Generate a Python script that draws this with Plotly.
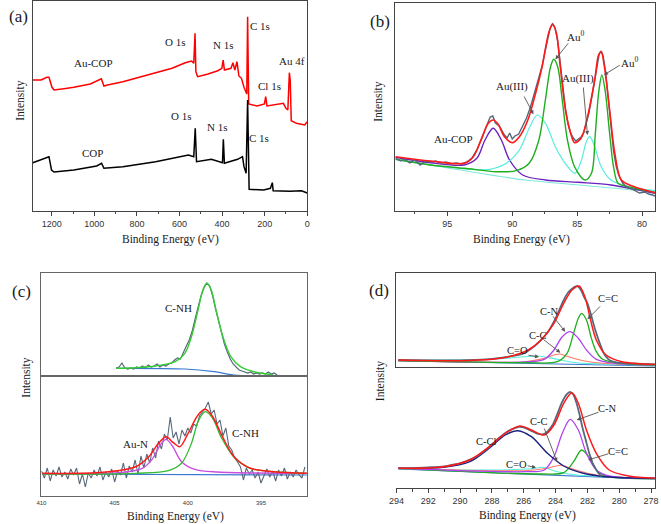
import plotly.graph_objects as go

W, H = 661, 524

# ---------------- Panel (a): survey spectra ----------------
a_red_ev = [1289,1250,1223,1213,1199,1189,1143,1096,1019,973,967,955,943,866,789,712,635,573,543,533,
            527,523,515,466,420,401,395,389,358,349,340,330,321,309,297,284,280,275,235,201,
            195,189,112,100,91,84,80,75,51,12,0]
a_red_int = [131,131,133.7,133.7,123.7,121,122.3,123.7,127,131,132.3,125,125.7,129.3,133.7,138.3,142.7,148.3,150,147.7,
             177.7,139.3,134.3,137,140.3,142.7,151,141,142.7,148.3,141,149.3,135,132.7,123.7,117,194.3,107,105,107,
             114.3,105,107.7,102.7,101,138.3,131,90.3,87.7,86,89.3]
a_blk_ev = [1289,1223,1213,1201,1189,1096,989,966,955,866,712,558,533,526,520,450,398,394,389,327,
            304,297,287,280,273,204,173,164,160,81,27,0]
a_blk_int = [48.3,53.7,54.3,41,39,41,45,47.7,42.7,44.3,49.3,56,54.3,82.7,49.3,51.7,48.3,71.7,47.7,51.7,
             54.3,44.3,37.7,111,21.7,21,22.7,28.3,20.3,19.7,20.3,18]

# ---------------- Panel (b): Au 4f ----------------
b_raw_ev = [99.0,98.6,98.3,97.9,97.5,97.1,96.7,96.3,95.9,95.5,95.1,94.7,94.3,93.9,93.5,93.1,92.7,92.3,92.0,91.7,
            91.5,91.3,91.0,90.8,90.6,90.4,90.2,90.0,89.8,89.5,89.2,88.9,88.6,88.3,88.0,87.7,87.5,87.3,87.1,86.9,
            86.7,86.5,86.3,86.1,85.9,85.7,85.5,85.3,85.1,84.9,84.7,84.5,84.3,84.1,83.9,83.7,83.5,83.3,83.15,83.0,
            82.8,82.6,82.4,82.2,82.0,81.8,81.5,81.2,80.8,80.5,80.2,79.8,79.5,79.2,79.0]
b_raw_int = [53,50,52,48,51,46,50,49,50,48,49,47,48,47,49,53,62,75,86,94,
             95,88,85,80,76,73,78,72,75,77,85,93,104,117,130,145,158,170,182,187,
             183,170,148,125,102,87,78,73,70,72,74,78,88,98,112,128,145,157,160,155,
             138,112,85,60,45,36,28,24,22,20,18,19,17,16,15]
b_red_ev = [99.0,96.3,93.7,93.0,92.35,91.85,91.47,91.1,90.6,90.0,89.45,88.8,88.2,87.7,87.2,86.9,86.6,86.3,85.9,85.5,
            85.2,84.7,84.2,83.65,83.35,83.15,82.9,82.5,82.1,81.6,80.6,78.95]
b_red_int = [54.3,50,47.7,54.3,72.7,87.7,91,87,74.3,68.3,74.3,91,117.7,144.3,177.7,187,177.7,144.3,101,77.7,
             68.3,72.7,94.3,131,156,159.3,144.3,101,57.7,31,24.3,18.3]
b_au0_ev = [99.0,96.3,93.7,91.2,89.7,88.7,87.95,87.45,87.05,86.8,86.5,86.15,85.75,85.2,84.4,83.9,83.6,83.35,83.1,82.85,
            82.5,82.2,81.85,81.1,78.95]
b_au0_int = [51.7,46,42.7,39.3,40.3,47.7,71,111,144.3,151.7,144.3,111,71,44.3,31,37.7,77.7,117.7,136,121,
             77.7,44.3,27.7,24.3,18.3]
b_au3_ev = [99.0,96.3,93.24,91.72,90.46,89.45,88.7,88.07,87.44,86.68,85.92,85.17,84.67,84.29,84.03,83.65,83.15,82.4,81.13,79.0]
b_au3_int = [51.7,46,41.7,41.7,47.7,61,82.7,96,87.7,64.3,47.7,37.7,51,69.3,74.3,64.3,44.3,31,24.7,20.3]
b_cop_ev = [99.0,96.3,93.7,92.73,92.1,91.47,90.84,90.21,89.2,87.44,84.92,82.4,79.0]
b_cop_int = [53.7,48.3,46,52.7,71,82.7,71,51,36,31,28.7,26,17.7]
b_base_ev = [99.0,94.0,89.0,84.0,79.0]
b_base_int = [52,41,31,25,19]

# ---------------- Panel (c): N 1s ----------------
c1_raw_ev = [404.9,404.7,404.5,404.3,404.1,403.9,403.7,403.5,403.3,403.1,402.9,402.7,402.5,402.3,402.1,401.9,401.7,401.5,401.3,401.1,
             400.9,400.7,400.5,400.3,400.1,399.9,399.7,399.5,399.3,399.1,398.9,398.7,398.5,398.3,398.1,397.9,397.7,397.5,397.3,397.1,
             396.9,396.7,396.5,396.3,396.1,395.9,395.7,395.5,395.3,395.1,394.9,394.7,394.5,394.3,394.1,393.9]
c1_raw_int = [8,9,13,8,7,8,7,9,8,10,8,11,9,10,12,9,11,10,12,13,
              16,18,17,24,30,36,45,57,70,80,88,93,90,80,67,55,42,32,24,17,
              12,9,6,5,4,3,4,2,3,2,3,2,4,2,3,1]
c1_fit_ev = [404.9,403.56,402.2,400.87,400.2,399.75,399.3,398.97,398.7,398.4,398.07,397.6,397.06,396.4,395.5,394.15]
c1_fit_int = [7.7,8.3,10,14.3,22.7,39.3,66,86,92.7,86,66,39.3,19.3,9.3,4.3,1]
c1_base_ev = [404.9,400.2,398.2,396.85,394.15]
c1_base_int = [7.7,7,4.3,1,0.3]

c2_raw_ev = [410.0,409.8,409.6,409.4,409.2,409.0,408.8,408.6,408.4,408.2,408.0,407.8,407.6,407.4,407.2,407.0,406.8,406.6,406.4,406.2,
             406.0,405.8,405.6,405.4,405.2,405.0,404.8,404.6,404.4,404.2,404.0,403.8,403.6,403.4,403.2,403.0,402.8,402.6,402.4,402.2,
             402.0,401.8,401.6,401.4,401.2,401.0,400.8,400.6,400.4,400.2,400.0,399.8,399.6,399.4,399.2,399.0,398.8,398.6,398.4,398.2,
             398.0,397.8,397.6,397.4,397.2,397.0,396.8,396.6,396.4,396.2,396.0,395.8,395.6,395.4,395.2,395.0,394.8,394.6,394.4,394.2,
             394.0,393.8,393.6,393.4,393.2,393.0,392.8,392.6,392.4,392.2,392.0]
c2_raw_int = [25,18,28,15,26,20,29,19,24,17,27,21,28,12,22,9,23,18,26,20,
              29,16,24,19,27,14,25,21,33,18,30,24,36,22,40,28,42,33,48,38,
              55,47,62,56,79,58,64,52,66,60,68,63,72,70,80,84,88,94,82,86,
              72,76,60,68,50,46,38,34,29,16,28,22,26,18,24,13,21,27,19,25,
              15,26,20,28,17,24,19,26,21,18,29]
c2_red_ev = [409.95,405.8,403.56,402.67,402.0,401.48,400.99,400.54,399.98,399.3,398.81,398.3,397.63,396.84,395.72,394.15,391.86]
c2_red_int = [22.7,23.7,29.3,39.3,52.7,59.3,53.3,49.3,62.7,81,86.7,79.3,59.3,39.3,27.7,24.3,22.7]
c2_aun_ev = [409.95,404.68,403.11,402.44,401.88,401.48,401.05,400.43,399.53,397.96,391.86]
c2_aun_int = [22,23.3,27.7,36.7,51,56.7,50,34.3,26.7,24,22.7]
c2_cnh_ev = [409.95,403.56,401.32,400.43,399.75,399.3,398.81,398.3,397.74,396.84,395.72,394.15,391.86]
c2_cnh_int = [22,22.7,25.3,32.7,52.7,74.3,84.3,77.7,59.3,38.7,27.7,24.3,22.7]
c2_base_ev = [409.95,391.86]
c2_base_int = [22,21]

# ---------------- Panel (d): C 1s ----------------
d1_raw_ev = [293.88,292,290,289,288,287,286,285.5,285,284.5,284,283.5,283.2,283.0,282.8,282.6,282.4,282.2,282.0,281.8,
             281.5,281.2,281.0,280.8,280.6,280.2,279.5,278.5,277.77]
d1_raw_int = [7.5,7,7,7.5,8.5,10.5,14,19,26,35,49,67,75,78,80.5,81,77,70,64,54,
              37,23,15,10,7,5,4,3.5,3]
d1_red_ev = [293.88,290.0,287.97,286.75,285.72,284.91,284.1,283.49,282.97,282.53,282.16,281.85,281.44,280.83,279.82,277.77]
d1_red_int = [7.3,6.6,8,11.3,17.3,27.3,44,64,77.3,81.3,70.6,50.6,27.3,12.3,5.6,3]
d1_cc2_ev = [293.88,285.93,283.89,283.28,282.87,282.57,282.36,282.06,281.75,281.44,281.04,279.82,277.77]
d1_cc2_int = [6.6,4.6,5.6,13.9,33.9,49,54,47.3,29,15.6,8,4,2.3]
d1_cn_ev = [293.88,285.93,284.71,284.1,283.58,283.08,282.57,282.06,281.44,280.22,277.77]
d1_cn_int = [6.6,5.3,8,17.3,30.6,35.6,29,17.3,8,4,2.3]
d1_cc_ev = [293.88,285.93,284.71,283.79,283.08,282.26,281.04,277.77]
d1_cc_int = [6.6,5.6,9,13.3,10,6.6,4,2.3]
d1_co_ev = [293.88,287.97,286.34,285.11,283.89,282.67,277.77]
d1_co_int = [7.3,8,10,11.3,8,4.6,2.3]
d1_base_ev = [293.88,277.77]
d1_base_int = [6.6,1.3]

d2_raw_ev = [293.88,292,291,290.5,290,289.5,289,288.5,288,287.5,287,286.6,286.3,286,285.6,285.2,284.8,284.5,284.2,283.9,
             283.6,283.3,283.1,282.9,282.7,282.5,282.3,282.1,281.9,281.7,281.5,281.3,281.1]
d2_raw_int = [20,21,22,23.5,25,28,31.5,37,44,51,57,60,61.5,61,58,55,54,57,63,74,
              86,94,96.5,94,86,74,60,48,36,26,20,15,12]
d2_red_ev = [293.88,291.03,289.39,288.17,287.16,286.24,285.52,284.71,284.1,283.49,282.97,282.57,282.06,281.44,280.63,279.41,277.77]
d2_red_int = [20,21.6,28.3,41.6,55,62.3,58.3,53.3,63.3,85,95.6,85,58.3,35,18.3,12.3,10]
d2_ccl_ev = [293.88,291.03,289.39,288.17,287.16,286.38,285.52,284.51,283.49,282.26,280.83,277.77]
d2_ccl_int = [20,21,26.6,40,53.3,57.6,51.6,35,22.3,15,11.6,10]
d2_cn_ev = [293.88,285.93,284.71,284.1,283.58,283.08,282.57,282.06,281.44,280.63,277.77]
d2_cn_int = [20,16.6,18.3,31.6,55,69,58.3,35,18.3,12.3,10]
d2_cc2_ev = [293.88,284.91,283.49,282.87,282.36,281.85,281.34,280.63,277.77]
d2_cc2_int = [20,14.3,15.6,26.6,38.3,30,16.6,11.6,9.6]
d2_cc_ev = [293.88,285.93,284.51,283.69,282.87,281.44,277.77]
d2_cc_int = [20,17.6,20,23,19,13.3,9.6]
d2_co_ev = [293.88,287.97,285.52,284.81,283.89,282.67,277.77]
d2_co_int = [19.6,18.3,19.6,21,16.6,13.3,10]
d2_base_ev = [293.88,277.77]
d2_base_int = [19.3,9]

# ---------------- colours ----------------
RAW = '#56687a'
RED = '#ff1a1a'
GREEN = '#1fae1f'
CYAN = '#55eedd'
PURPLE = '#6a22c0'
VIOLET = '#b044ee'
MAGENTA = '#c84ee0'
BLUE = '#3a78d0'
NAVY = '#1c2380'
SALMON = '#ff7a66'
LIGHTCYAN = '#7fe8d8'

fig = go.Figure()


def line(x, y, color, width, xa, ya, smooth=True):
    fig.add_trace(go.Scatter(
        x=x, y=y, mode='lines', xaxis=xa, yaxis=ya, showlegend=False, hoverinfo='skip',
        line=dict(color=color, width=width, shape='spline' if smooth else 'linear',
                  smoothing=0.9 if smooth else None)))


# (a)
line(a_red_ev, a_red_int, '#ff0000', 1.5, 'x', 'y', smooth=False)
line(a_blk_ev, a_blk_int, '#000000', 1.5, 'x', 'y', smooth=False)

# (b)
line(b_base_ev, b_base_int, LIGHTCYAN, 1.1, 'x2', 'y2')
line(b_cop_ev, b_cop_int, PURPLE, 1.4, 'x2', 'y2')
line(b_au3_ev, b_au3_int, CYAN, 1.2, 'x2', 'y2')
line(b_au0_ev, b_au0_int, GREEN, 1.4, 'x2', 'y2')
line(b_raw_ev, b_raw_int, RAW, 1.4, 'x2', 'y2', smooth=False)
line(b_red_ev, b_red_int, RED, 1.6, 'x2', 'y2')

# (c) top
line(c1_base_ev, c1_base_int, BLUE, 1.2, 'x3', 'y3')
line(c1_raw_ev, c1_raw_int, RAW, 1.2, 'x3', 'y3', smooth=False)
line(c1_fit_ev, c1_fit_int, '#33cc33', 1.4, 'x3', 'y3')
# (c) bottom
line(c2_base_ev, c2_base_int, BLUE, 1.2, 'x4', 'y4')
line(c2_raw_ev, c2_raw_int, RAW, 1.1, 'x4', 'y4', smooth=False)
line(c2_aun_ev, c2_aun_int, MAGENTA, 1.3, 'x4', 'y4')
line(c2_cnh_ev, c2_cnh_int, '#33bb33', 1.3, 'x4', 'y4')
line(c2_red_ev, c2_red_int, RED, 1.5, 'x4', 'y4')

# (d) top
line(d1_base_ev, d1_base_int, BLUE, 1.1, 'x5', 'y5')
line(d1_co_ev, d1_co_int, CYAN, 1.1, 'x5', 'y5')
line(d1_cc_ev, d1_cc_int, SALMON, 1.1, 'x5', 'y5')
line(d1_cn_ev, d1_cn_int, VIOLET, 1.3, 'x5', 'y5')
line(d1_cc2_ev, d1_cc2_int, GREEN, 1.3, 'x5', 'y5')
line(d1_raw_ev, d1_raw_int, RAW, 1.8, 'x5', 'y5')
line(d1_red_ev, d1_red_int, RED, 1.5, 'x5', 'y5')
# (d) bottom
line(d2_base_ev, d2_base_int, BLUE, 1.1, 'x6', 'y6')
line(d2_co_ev, d2_co_int, CYAN, 1.1, 'x6', 'y6')
line(d2_cc_ev, d2_cc_int, SALMON, 1.1, 'x6', 'y6')
line(d2_cc2_ev, d2_cc2_int, GREEN, 1.3, 'x6', 'y6')
line(d2_cn_ev, d2_cn_int, VIOLET, 1.3, 'x6', 'y6')
line(d2_ccl_ev, d2_ccl_int, NAVY, 1.4, 'x6', 'y6')
line(d2_raw_ev, d2_raw_int, RAW, 1.8, 'x6', 'y6')
line(d2_red_ev, d2_red_int, RED, 1.5, 'x6', 'y6')


def fx(px):
    return px / W


def fy(py):
    return 1 - py / H


LC = '#444444'
TICKFONT = dict(family='Liberation Sans, Arial, sans-serif', size=9, color='#333333')
base = dict(showgrid=False, zeroline=False, showline=True, linecolor=LC, linewidth=1, fixedrange=True)
yhide = dict(base, showticklabels=False, ticks='', mirror=True)

layout_axes = dict(
    xaxis=dict(base, domain=[fx(25), fx(304.3)], range=[1290, 0], anchor='y', mirror=True,
               ticks='outside', ticklen=4, tickcolor=LC, dtick=200, tick0=0, tickfont=TICKFONT,
               minor=dict(dtick=100, tick0=0, ticks='outside', ticklen=2, tickcolor=LC)),
    yaxis=dict(yhide, domain=[fy(211), fy(1)], range=[0, 210], anchor='x'),
    xaxis2=dict(base, domain=[fx(394), fx(658)], range=[99, 79], anchor='y2', mirror=True,
                ticks='outside', ticklen=4, tickcolor=LC, dtick=5, tick0=0, tickfont=TICKFONT,
                minor=dict(dtick=2.5, tick0=0, ticks='outside', ticklen=2, tickcolor=LC)),
    yaxis2=dict(yhide, domain=[fy(211), fy(3)], range=[0, 208], anchor='x2'),
    xaxis3=dict(base, domain=[fx(34), fx(304)], range=[410, 391.86], anchor='y3', mirror=True,
                showticklabels=False, ticks='', linecolor='#666666', linewidth=1.3),
    yaxis3=dict(yhide, domain=[fy(376), fy(273)], range=[0, 103], anchor='x3', linecolor='#666666'),
    xaxis4=dict(base, domain=[fx(34), fx(304)], range=[410, 391.86], anchor='y4', mirror=True,
                ticks='', dtick=5, tick0=0, linecolor='#666666', linewidth=1.3,
                tickfont=dict(family='Liberation Sans, Arial, sans-serif', size=6, color='#333333')),
    yaxis4=dict(yhide, domain=[fy(496), fy(376)], range=[0, 120], anchor='x4', linecolor='#666666'),
    xaxis5=dict(base, domain=[fx(395), fx(658)], range=[294, 277.75], anchor='y5', mirror=True,
                showticklabels=False, ticks=''),
    yaxis5=dict(yhide, domain=[fy(367.3), fy(273.3)], range=[0, 94], anchor='x5'),
    xaxis6=dict(base, domain=[fx(395), fx(658)], range=[294, 277.75], anchor='y6',
                ticks='outside', ticklen=4, tickcolor=LC, dtick=2, tick0=0, tickfont=TICKFONT,
                minor=dict(dtick=1, tick0=0, ticks='outside', ticklen=3, tickcolor=LC)),
    yaxis6=dict(base, domain=[fy(488.3), fy(367.3)], range=[0, 121], anchor='x6', side='right',
                showticklabels=False, ticks='', mirror=False),
)

SERIF = 'Liberation Serif, Times New Roman, serif'
ann = []


def text(s, px, py, size=11, angle=0):
    ann.append(dict(text=s, x=fx(px), y=fy(py), xref='paper', yref='paper', showarrow=False,
                    xanchor='center', yanchor='middle', textangle=angle,
                    font=dict(family=SERIF, size=size, color='#1a1a1a')))


def arrow(tail, tip):
    ann.append(dict(text='', x=fx(tip[0]), y=fy(tip[1]), xref='paper', yref='paper',
                    ax=tail[0] - tip[0], ay=tail[1] - tip[1], showarrow=True,
                    arrowhead=2, arrowsize=0.9, arrowwidth=0.9, arrowcolor='#555555',
                    standoff=0, startstandoff=0))


# panel letters
text('(a)', 11, 16.5, 17)
text('(b)', 378, 21.5, 17)
text('(c)', 14, 291.5, 17)
text('(d)', 377.5, 290.5, 17)

# axis titles
for (tx, ty, ix, iy) in [(165, 239, 13, 101), (522, 239, 377, 102), (170, 516.5, 18, 378), (528, 515.5, 379, 381.5)]:
    text('Binding Energy (eV)', tx, ty, 11.5)
    text('Intensity', ix, iy, 11.5, -90)

# (a) labels
text('Au-COP', 86.7, 62.7)
text('O 1s', 170, 41.7)
text('N 1s', 218.3, 45)
text('C 1s', 256, 26)
text('Au 4f', 289.3, 61)
text('Cl 1s', 265.7, 86)
text('COP', 86, 153.3)
text('O 1s', 175.7, 116)
text('N 1s', 212.7, 126.7)
text('C 1s', 255.7, 137.7)

# (b) labels
text('Au-COP', 453, 139)
text('Au(III)', 513, 86)
text('Au<sup>0</sup>', 577, 36)
text('Au(III)', 580, 79)
text('Au<sup>0</sup>', 632, 62)
arrow((524.3, 95), (534.3, 114.3))
arrow((570.7, 41.7), (556.7, 59.3))
arrow((585, 86), (589.3, 135))
arrow((623.3, 64.3), (606, 75))

# (c) labels
text('C-NH', 173, 308)
text('Au-N', 130, 444)
text('C-NH', 242, 433)

# (d) labels
text('C=C', 610, 298, 10.5)
arrow((603.3, 305), (589.3, 319.3))
text('C-N', 551, 311, 10.5)
arrow((553.3, 315), (566.7, 331.7))
text('C-C', 539.3, 335, 10.5)
arrow((543.3, 338.3), (561.7, 352.7))
text('C=O', 517.7, 350, 10.5)
arrow((528, 355), (540, 357))
text('C-Cl', 486.7, 441.7, 10.5)
text('C-C', 540, 421.7, 10.5)
arrow((545, 427), (558.3, 461.7))
text('C-N', 609.3, 408.3, 10.5)
arrow((601.7, 411.7), (578.3, 420))
text('C=C', 620, 451.7, 10.5)
arrow((611.7, 453.3), (590, 460))
text('C=O', 516.7, 464, 10.5)
arrow((527, 465.5), (537, 467.5))

fig.update_layout(
    width=W, height=H, margin=dict(l=0, r=0, t=0, b=0),
    paper_bgcolor='white', plot_bgcolor='white',
    showlegend=False, annotations=ann, **layout_axes)

fig.write_html('out.html', config={'displayModeBar': False, 'staticPlot': True},
               post_script="document.body.style.margin='0';document.body.style.overflow='hidden';")
